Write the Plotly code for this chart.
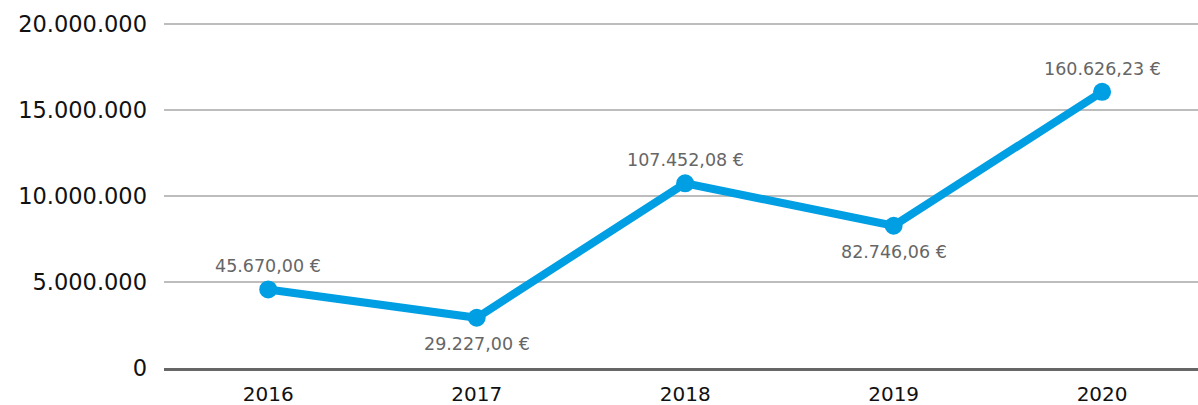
import plotly.graph_objects as go

years = ["2016", "2017", "2018", "2019", "2020"]
# amounts in cents
amounts = [4567000, 2922700, 10745208, 8274606, 16062623]
label_side = ["above", "below", "above", "below", "above"]
y_ticks = [0, 5000000, 10000000, 15000000, 20000000]
y_tick_text = ["0", "5.000.000", "10.000.000", "15.000.000", "20.000.000"]

FONT = "DejaVu Sans"


def euro(cents):
    s = f"{cents / 100:,.2f}"
    s = s.replace(",", "X").replace(".", ",").replace("X", ".")
    return s + " €"


labels = [euro(v) for v in amounts]
xs = list(range(len(years)))

fig = go.Figure()
fig.add_trace(go.Scatter(
    x=xs, y=amounts,
    mode="lines+markers",
    line=dict(color="#009FE3", width=8),
    marker=dict(color="#009FE3", size=18),
    cliponaxis=False,
    showlegend=False,
    hoverinfo="skip",
))

# value labels above / below each point
for x, y, txt, side in zip(xs, amounts, labels, label_side):
    fig.add_annotation(
        x=x, y=y, text=txt, showarrow=False,
        xanchor="center",
        yanchor="middle",
        yshift=23 if side == "above" else -26,
        font=dict(family=FONT, size=17.5, color="#666666"),
    )

fig.update_layout(
    width=1198, height=405,
    margin=dict(l=164, r=0, t=19, b=37, autoexpand=False),
    paper_bgcolor="white", plot_bgcolor="white",
    xaxis=dict(
        range=[-0.5, 4.46],
        tickvals=xs, ticktext=years,
        showgrid=False, zeroline=False,
        showline=True, linecolor="#666666", linewidth=3,
        ticks="", ticklabelstandoff=6, automargin=False,
        tickfont=dict(family=FONT, size=20, color="#111111"),
    ),
    yaxis=dict(
        range=[0, 20300000],
        tickvals=y_ticks, ticktext=y_tick_text,
        showgrid=True, gridcolor="#BDBDBD", gridwidth=2,
        zeroline=False, showline=False, ticks="",
        ticklabelstandoff=16, automargin=False,
        tickfont=dict(family=FONT, size=22.5, color="#111111"),
    ),
)

fig.write_html("out.html")
